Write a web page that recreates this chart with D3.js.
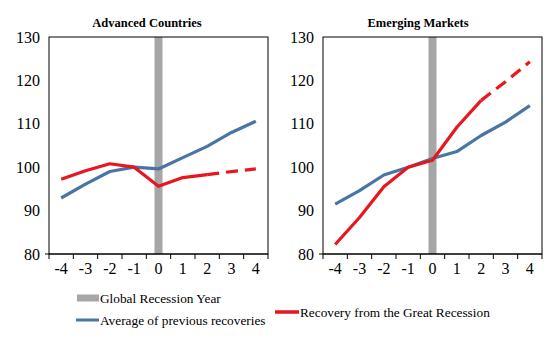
<!DOCTYPE html>
<html>
<head>
<meta charset="utf-8">
<script src="https://cdn.jsdelivr.net/npm/d3@7"></script>
<style>
  body { margin: 0; background: #fff; }
</style>
</head>
<body>
<div id="chart"></div>
<script>
// years around the global recession
var years = [-4, -3, -2, -1, 0, 1, 2, 3, 4];
var yTicks = [80, 90, 100, 110, 120, 130];

// Advanced countries
var advAverage = [92.9, 96.1, 99.0, 100.0, 99.6, 102.2, 104.8, 108.0, 110.6];
var advGreat = [97.2, 99.2, 100.8, 100.0, 95.6, 97.6, 98.3, 99.0, 99.6];

// Emerging markets
var emAverage = [91.5, 94.6, 98.2, 100.0, 102.0, 103.6, 107.3, 110.4, 114.2];
var emGreat = [82.2, 88.4, 95.5, 100.0, 101.6, 109.2, 115.4, 119.7, 124.3];

var panelTitles = ["Advanced Countries", "Emerging Markets"];
var legendLabels = ["Global Recession Year", "Average of previous recoveries", "Recovery from the Great Recession"];

var blue = "#4a74a6", red = "#e8161e", grey = "#a6a6a6";
var serif = "'Liberation Serif', 'Times New Roman', Times, serif";

var width = 549, height = 342;
var svg = d3.select("#chart").append("svg")
    .attr("width", width)
    .attr("height", height)
    .style("font-family", serif);

var top_ = 37, bottom = 254;
var y = d3.scaleLinear().domain([80, 130]).range([bottom, top_]);

function drawPanel(left, right, title, titleX, average, great) {
    var g = svg.append("g");
    var x = d3.scaleBand().domain(years).range([left, right]).padding(0);
    var cx = function(d) { return x(d) + x.bandwidth() / 2; };

    // recession year bar
    g.append("rect")
        .attr("x", cx(0) - 4)
        .attr("y", top_)
        .attr("width", 8)
        .attr("height", bottom - top_)
        .attr("fill", grey);

    // frame
    g.append("rect")
        .attr("x", left).attr("y", top_)
        .attr("width", right - left).attr("height", bottom - top_)
        .attr("fill", "none").attr("stroke", "#000").attr("stroke-width", 1);

    // y axis labels
    var ya = g.append("g")
        .attr("transform", "translate(" + left + ",0)")
        .call(d3.axisLeft(y).tickValues(yTicks).tickSize(0).tickPadding(9));
    ya.attr("font-family", null);
    ya.select(".domain").remove();
    ya.selectAll("text").style("font-size", "16px").style("font-family", serif);

    // x axis
    var xa = g.append("g")
        .attr("transform", "translate(0," + bottom + ")")
        .call(d3.axisBottom(x).tickSize(0).tickPadding(9));
    xa.attr("font-family", null);
    xa.select(".domain").remove();
    xa.selectAll("text").style("font-size", "16px").style("font-family", serif)
        .text(function(d) { return d; });
    g.append("line")
        .attr("x1", left - 4).attr("x2", right)
        .attr("y1", bottom).attr("y2", bottom)
        .attr("stroke", "#000");
    g.selectAll(".btick")
        .data(years.concat([null]))
        .enter().append("line")
        .attr("x1", function(d, i) { return left + i * x.step(); })
        .attr("x2", function(d, i) { return left + i * x.step(); })
        .attr("y1", bottom).attr("y2", bottom + 5)
        .attr("stroke", "#000");

    var line = d3.line()
        .x(function(d) { return cx(d[0]); })
        .y(function(d) { return y(d[1]); });

    var avgPts = years.map(function(d, i) { return [d, average[i]]; });
    var grtPts = years.map(function(d, i) { return [d, great[i]]; });

    g.append("path")
        .attr("d", line(avgPts))
        .attr("fill", "none").attr("stroke", blue)
        .attr("stroke-width", 3.2).attr("stroke-linejoin", "round");

    g.append("path")
        .attr("d", line(grtPts.filter(function(d) { return d[0] <= 2; })))
        .attr("fill", "none").attr("stroke", red)
        .attr("stroke-width", 3.2).attr("stroke-linejoin", "round");

    g.append("path")
        .attr("d", line(grtPts.filter(function(d) { return d[0] >= 2; })))
        .attr("fill", "none").attr("stroke", red)
        .attr("stroke-width", 3.2)
        .attr("stroke-dasharray", "12,7");

    g.append("text")
        .attr("x", titleX).attr("y", 27)
        .attr("text-anchor", "middle")
        .style("font-size", "12.5px")
        .style("font-weight", "bold")
        .text(title);
}

drawPanel(49, 268, panelTitles[0], 147, advAverage, advGreat);
drawPanel(323, 542, panelTitles[1], 418, emAverage, emGreat);

// legend
var leg = svg.append("g").style("font-size", "13.3px");
leg.append("rect")
    .attr("x", 77).attr("y", 294.5).attr("width", 22).attr("height", 7)
    .attr("fill", grey);
leg.append("text").attr("x", 100).attr("y", 303)
    .text(legendLabels[0]);

leg.append("line")
    .attr("x1", 76).attr("x2", 99).attr("y1", 320).attr("y2", 320)
    .attr("stroke", blue).attr("stroke-width", 3);
leg.append("text").attr("x", 100).attr("y", 325)
    .text(legendLabels[1]);

leg.append("line")
    .attr("x1", 275).attr("x2", 299).attr("y1", 312).attr("y2", 312)
    .attr("stroke", red).attr("stroke-width", 3.5);
leg.append("text").attr("x", 300).attr("y", 317)
    .text(legendLabels[2]);
</script>
</body>
</html>
